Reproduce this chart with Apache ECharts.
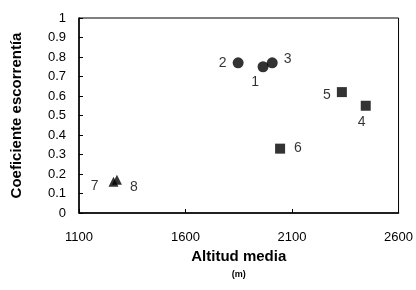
<!DOCTYPE html>
<html>
<head>
<meta charset="utf-8">
<script src="https://cdn.jsdelivr.net/npm/echarts@6/dist/echarts.min.js"></script>
<style>
html,body{margin:0;padding:0;background:#fff;}
#c{width:416px;height:290px;}
</style>
</head>
<body>
<div id="c"></div>
<script>
// Data
const ids      = ['1', '2', '3', '4', '5', '6', '7', '8'];
const altitude = [1964, 1847, 2007, 2446, 2334, 2044, 1262, 1278];
const coef     = [0.75, 0.77, 0.77, 0.55, 0.62, 0.33, 0.16, 0.17];
const groups   = ['circle', 'circle', 'circle', 'rect', 'rect', 'rect', 'triangle', 'triangle'];
const xTicks = [1100, 1600, 2100, 2600];
const yTicks = [0, 0.1, 0.2, 0.3, 0.4, 0.5, 0.6, 0.7, 0.8, 0.9, 1];

// label placement (style only)
const labelPlace = {
  '1': {position: 'bottom', offset: [-8, -2]},
  '2': {position: 'left', offset: [-1, 0]},
  '3': {position: 'right', offset: [1, -4]},
  '4': {position: 'bottom', offset: [-4, -1]},
  '5': {position: 'left', offset: [-1, 3]},
  '6': {position: 'right', offset: [4, -1]},
  '7': {position: 'left', offset: [-5, 4]},
  '8': {position: 'right', offset: [3, 7]}
};
const sizes = {circle: 11, rect: 10, triangle: 10};

function buildSeries(shape) {
  const data = [];
  ids.forEach((id, i) => {
    if (groups[i] !== shape) return;
    data.push({
      value: [altitude[i], coef[i]],
      name: id,
      label: Object.assign({show: true, formatter: id}, labelPlace[id])
    });
  });
  return {
    type: 'scatter',
    symbol: shape,
    symbolSize: sizes[shape],
    itemStyle: {color: '#000'},
    label: {color: '#000', fontSize: 14, fontFamily: 'Liberation Sans, Arial, sans-serif'},
    emphasis: {disabled: true},
    data: data
  };
}

const chart = echarts.init(document.getElementById('c'), null, {renderer: 'canvas'});
const font = 'Liberation Sans, Arial, sans-serif';
chart.setOption({
  animation: false,
  grid: {left: 79, right: 16, top: 18, bottom: 77, show: true, borderColor: '#000', borderWidth: 1},
  xAxis: {
    type: 'value', min: xTicks[0], max: xTicks[xTicks.length - 1], interval: 500,
    axisLine: {lineStyle: {color: '#000', width: 1.5}},
    axisTick: {inside: true, length: 4, lineStyle: {color: '#000'}},
    splitLine: {show: false},
    axisLabel: {color: '#000', fontSize: 13, fontFamily: font, margin: 18,
      formatter: v => String(v)},
    name: '{a|Altitud media}\n{b|(m)}',
    nameLocation: 'middle', nameGap: 34,
    nameTextStyle: {
      rich: {
        a: {fontSize: 15, fontWeight: 'bold', color: '#000', fontFamily: font, lineHeight: 18},
        b: {fontSize: 9, fontWeight: 'bold', color: '#000', fontFamily: font, lineHeight: 18}
      }
    }
  },
  yAxis: {
    type: 'value', min: yTicks[0], max: yTicks[yTicks.length - 1], interval: 0.1,
    axisLine: {lineStyle: {color: '#000', width: 1.5}},
    axisTick: {inside: true, length: 4, lineStyle: {color: '#000'}},
    splitLine: {show: false},
    axisLabel: {color: '#000', fontSize: 13, fontFamily: font, margin: 13,
      formatter: v => String(Math.round(v * 10) / 10)},
    name: 'Coeficiente escorrentía',
    nameLocation: 'middle', nameGap: 55,
    nameTextStyle: {fontSize: 15, fontWeight: 'bold', color: '#000', fontFamily: font}
  },
  series: [buildSeries('circle'), buildSeries('rect'), buildSeries('triangle')]
});
</script>
</body>
</html>
